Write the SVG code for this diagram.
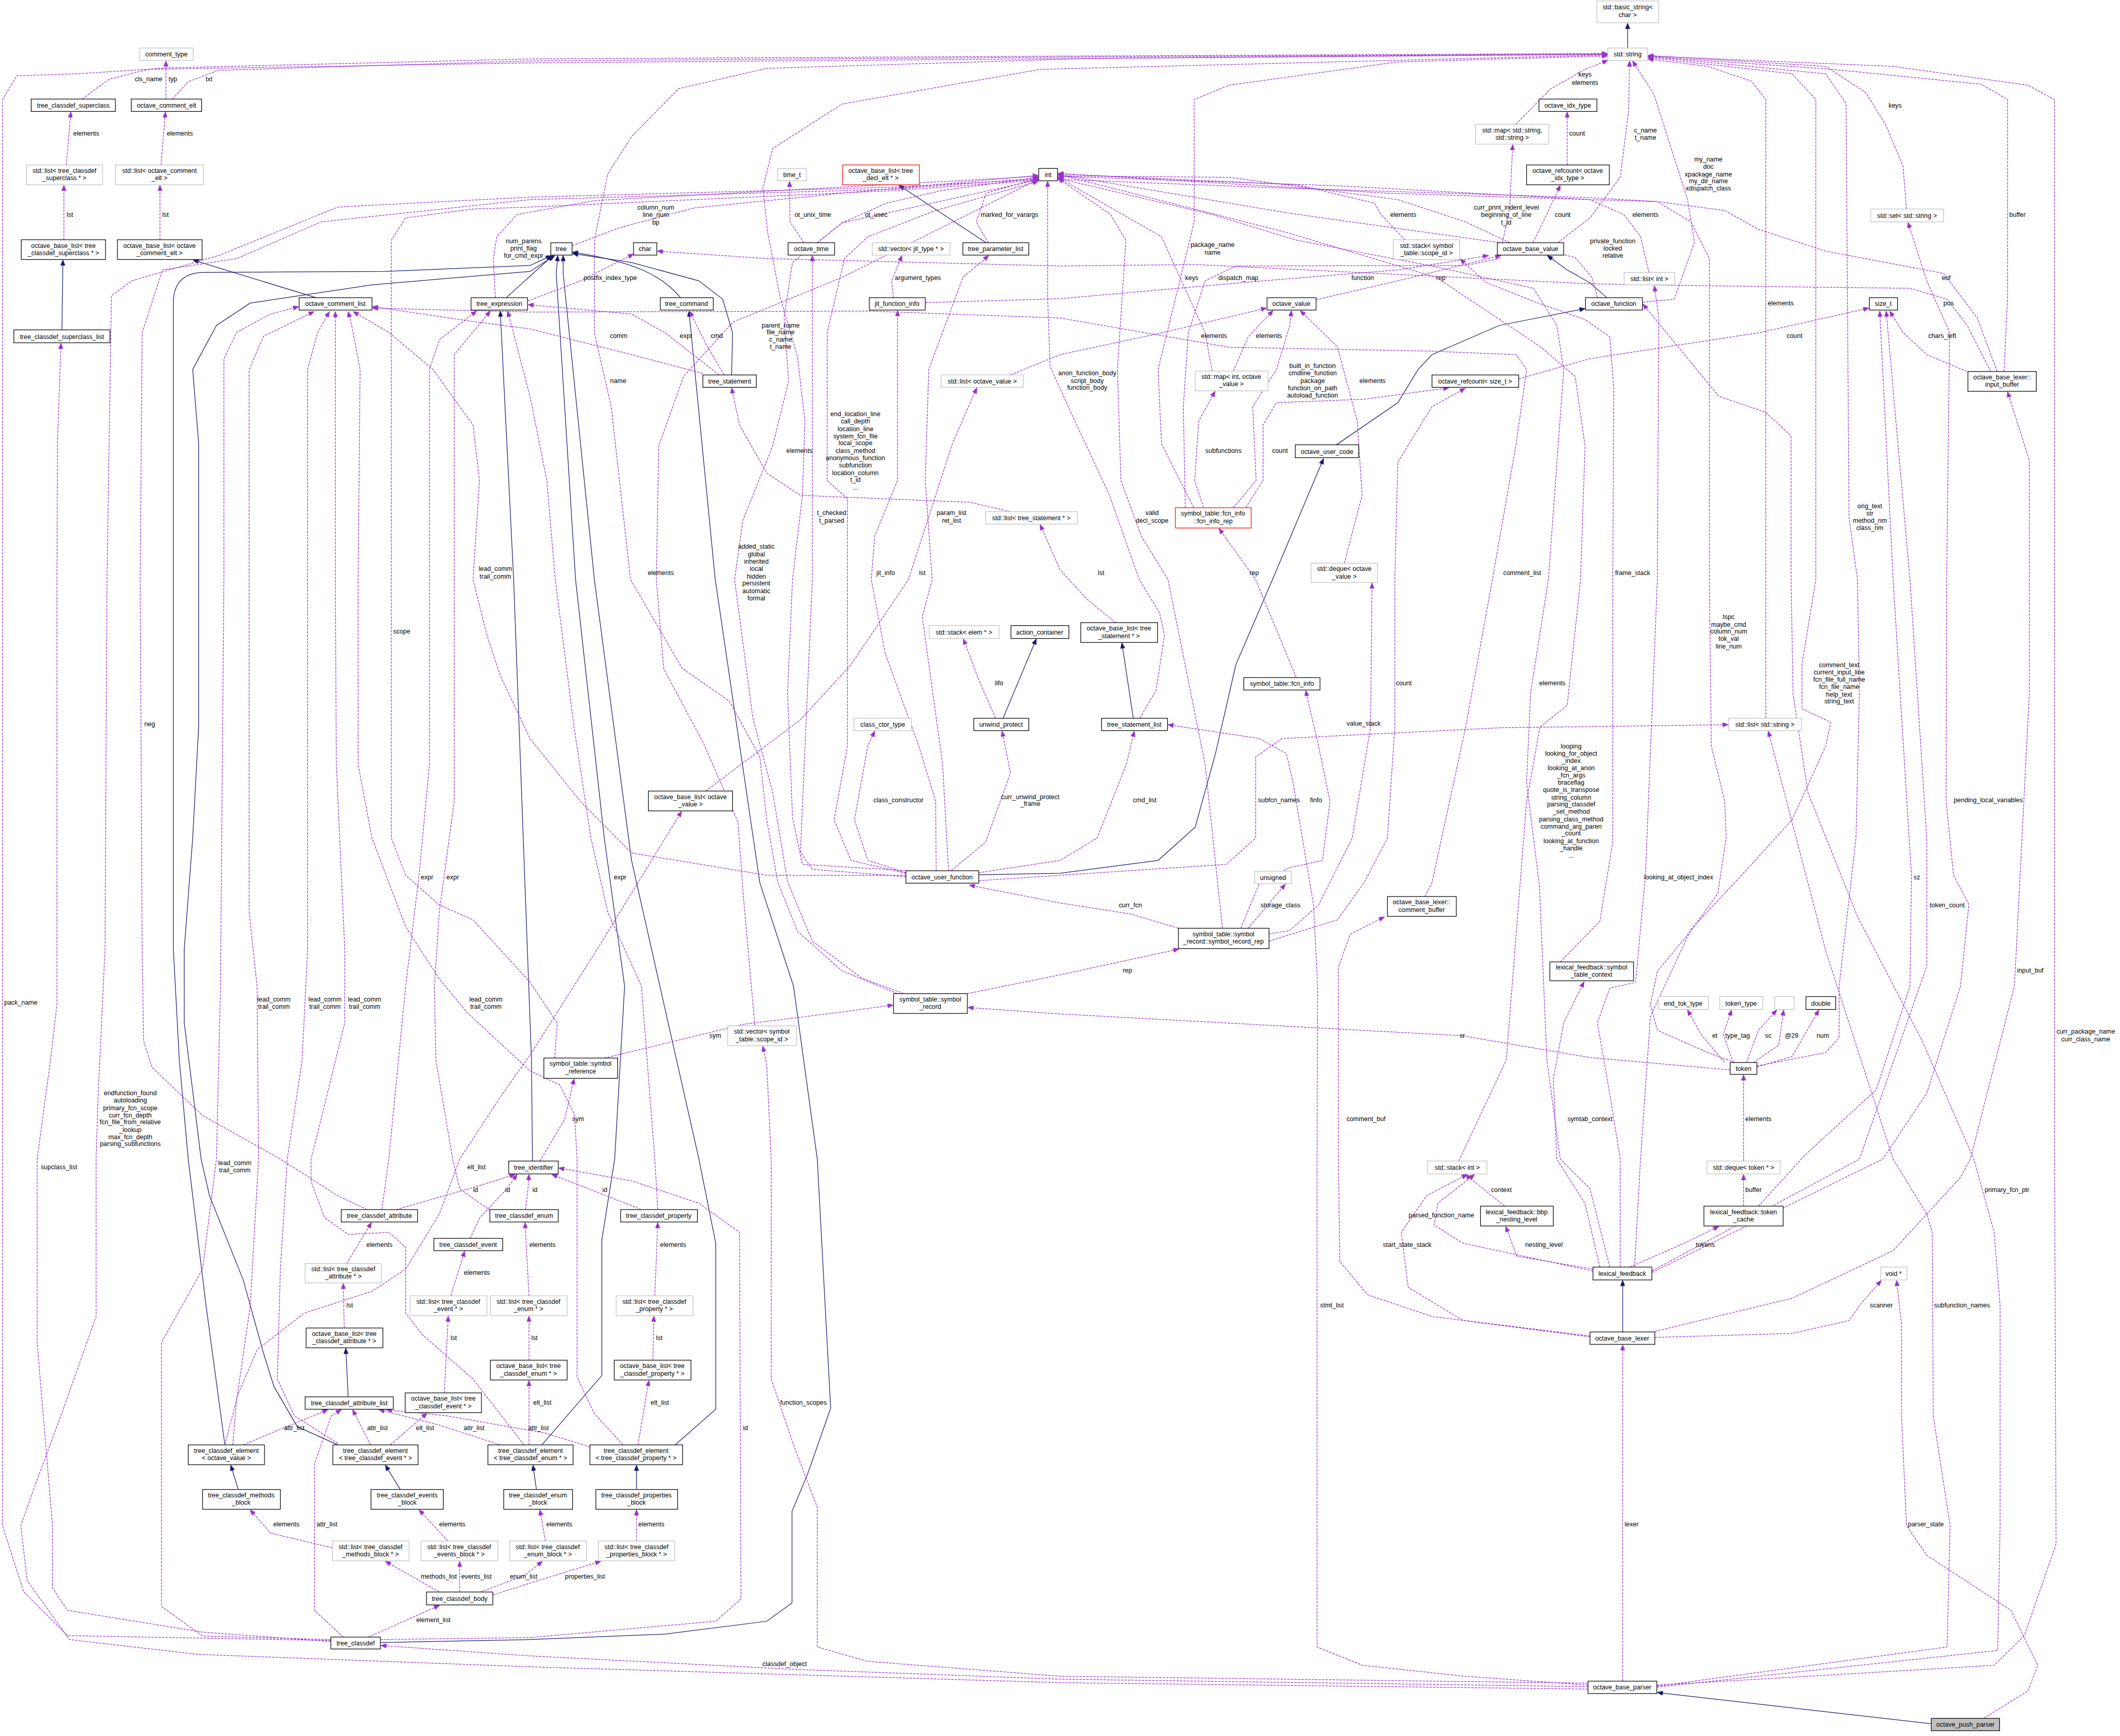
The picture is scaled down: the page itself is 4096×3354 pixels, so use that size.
<svg xmlns="http://www.w3.org/2000/svg" width="4096" height="3354" viewBox="0 0 4096 3354">
<defs>
<marker id="pa" viewBox="0 0 12 10" refX="12" refY="5" markerWidth="12" markerHeight="9" markerUnits="userSpaceOnUse" orient="auto"><path d="M0,0 L12,5 L0,10 z" fill="#9a32cd" stroke="#9a32cd"/></marker>
<marker id="na" viewBox="0 0 12 10" refX="12" refY="5" markerWidth="12" markerHeight="9" markerUnits="userSpaceOnUse" orient="auto"><path d="M0,0 L12,5 L0,10 z" fill="#191970" stroke="#191970"/></marker>
<style>
text{font-family:"Liberation Sans",Arial,Helvetica,sans-serif;font-size:13px;fill:#000;text-anchor:middle}
rect.b{fill:#fff;stroke:#000;stroke-width:1.3}
rect.g{fill:#fff;stroke:#bfbfbf;stroke-width:1.3}
rect.r{fill:#fff;stroke:#ff0000;stroke-width:1.3}
rect.s{fill:#bfbfbf;stroke:#000;stroke-width:1.3}
path.u{fill:none;stroke:#9a32cd;stroke-width:1.3;stroke-dasharray:5,2;marker-end:url(#pa)}
path.h{fill:none;stroke:#191970;stroke-width:1.3;marker-end:url(#na)}
</style>
</defs>
<rect x="0" y="0" width="4096" height="3354" fill="#fff"/>
<g transform="scale(0.957)">
<g id="connectors">
<path class="h" d="M3286,97 L3286,47"/>
<path class="h" d="M125,666 L127,525"/>
<path class="h" d="M638,601 L390,525"/>
<path class="h" d="M1022,601 L1116,516"/>
<path class="h" d="M1374,601 C1340,560 1290,530 1156,509"/>
<path class="h" d="M1477,757 L1479,672 L1459,604 L1411,567 L1275,530 L1156,512"/>
<path class="h" d="M454,2917 L416,2636 L380,2340 L362,2140 L350,1916 L350,612 Q350,552 409,550 L778,548 L1070,536 L1113,516"/>
<path class="h" d="M682,2917 L600,2880 L553,2799 L532,2732 L491,2584 L423,2414 L406,2340 L372,2065 L372,1916 L389,1692 L401,1468 L401,895 L389,746 L437,657 L505,612 L751,575 L1070,548 L1120,516"/>
<path class="h" d="M1094,2917 L1215,2777 L1215,2503 L1241,2340 L1261,1991 L1220,1692 L1162,1170 L1123,552 L1126,516"/>
<path class="h" d="M1363,2917 L1445,2845 L1445,2510 L1411,2340 L1275,1737 L1200,1170 L1137,552 L1137,516"/>
<path class="h" d="M768,3316 L1070,3310 L1343,3299 L1548,3273 L1599,3236 L1599,3051 L1630,2977 L1677,2843 L1650,2340 L1602,1991 L1534,1782 L1444,1170 L1391,628"/>
<path class="h" d="M1075,2344 L1073,2140 L1037,1170 L1010,628"/>
<path class="h" d="M703,2820 L698,2722"/>
<path class="h" d="M481,3007 L466,2958"/>
<path class="h" d="M808,3007 L778,2958"/>
<path class="h" d="M1083,3007 L1076,2958"/>
<path class="h" d="M1285,3007 L1285,2958"/>
<path class="h" d="M2288,1450 L2265,1298"/>
<path class="h" d="M2025,1450 L2092,1290"/>
<path class="h" d="M1976,1766 L2140,1763 L2338,1737 L2413,1670 L2454,1521 L2495,1342 L2569,1170 L2672,926"/>
<path class="h" d="M2698,898 L2822,813 L2863,746 L2891,716 L3027,657 L3200,623"/>
<path class="h" d="M3244,601 L3210,571 L3164,545 L3124,516"/>
<path class="h" d="M1991,490 L1815,374"/>
<path class="h" d="M3276,2689 L3276,2585"/>
<path class="h" d="M3899,3480 L3346,3417"/>

<path class="u" d="M166,200 L220,160 L300,140 L1070,127 L2200,118 L3245,110"/>
<path class="u" d="M335,200 L335,123"/>
<path class="u" d="M348,200 L380,165 L440,142 L1070,123 L2200,115 L3245,109"/>
<path class="u" d="M134,333 L143,226"/>
<path class="u" d="M325,333 L334,226"/>
<path class="u" d="M129,484 L129,374"/>
<path class="u" d="M323,484 L323,374"/>
<path class="u" d="M668,3312 L136,3302 L48,3214 L5,3080 L5,201 L34,153 L157,149 L341,137 L1070,119 L2200,113 L3245,108"/>
<path class="u" d="M668,3314 L409,3295 L136,3251 L106,3206 L106,3080 L75,2710 L75,2340 L102,2140 L115,2028 L115,1170 L116,895 L123,693"/>
<path class="u" d="M3206,3405 L2140,3390 L1600,3370 L1070,3343 L769,3322"/>
<path class="u" d="M3206,3410 L2140,3397 L1070,3365 L400,3340 L140,3310 L55,3191 L42,3080 L68,3006 L123,2858 L194,2658 L194,2340 L198,2215 L212,1916 L216,1170 L225,597 L266,567 L444,515 L682,418 L1070,398 L1800,378 L2096,362"/>
<path class="u" d="M668,3310 L409,3303 L326,3243 L326,2710 L409,2562 L437,2340 L445,2000 L452,1170 L452,724 L478,671 L546,634 L603,619"/>
<path class="u" d="M454,2917 L478,2825 L505,2638 L522,2340 L519,1991 L503,1841 L503,1170 L503,746 L532,679 L634,629"/>
<path class="u" d="M682,2914 L594,2858 L560,2784 L566,2562 L580,2340 L610,2140 L621,1916 L621,1170 L621,746 L641,672 L665,629"/>
<path class="u" d="M1058,2917 L955,2784 L853,2695 L819,2651 L819,2518 L785,2488 L703,2492 L655,2458 L628,2385 L628,2340 L641,2289 L696,2065 L696,1916 L679,1543 L677,1170 L677,629"/>
<path class="u" d="M1258,2917 L1200,2854 L1165,2780 L1165,2340 L1160,2250 L1130,2190 L1070,2162 L942,2043 L887,1976 L819,1871 L751,1692 L723,1543 L723,1170 L727,746 L710,657 L703,629"/>
<path class="u" d="M1829,1767 L1548,1767 L1275,1722 L1172,1618 L1070,1491 L1010,1364 L983,1282 L955,1170 L968,970 L955,858 L874,746 L785,671 L713,629"/>
<path class="u" d="M1419,754 L1275,716 L1070,664 L955,649 L752,619"/>
<path class="u" d="M1452,757 L1343,672 L1275,634 L1066,615"/>
<path class="u" d="M1462,757 L1425,694 L1392,628"/>
<path class="u" d="M1065,608 L1172,567 L1279,513"/>
<path class="u" d="M1000,601 L996,522 L1003,478 L1044,433 L1200,405 L2096,356"/>
<path class="u" d="M771,2442 L785,2340 L819,1991 L846,1767 L867,1543 L867,1170 L867,746 L887,686 L962,628"/>
<path class="u" d="M990,2444 L928,2400 L914,2340 L880,2140 L877,1991 L887,1841 L917,1618 L917,1170 L917,716 L990,628"/>
<path class="u" d="M1328,2442 L1322,2340 L1295,1991 L1227,1841 L1193,1692 L1159,1468 L1121,1170 L1104,970 L1070,800 L1025,628"/>
<path class="u" d="M741,2442 L682,2414 L566,2340 L409,2252 L307,2155 L290,2102 L287,1916 L283,1170 L287,672 L328,545 L478,522 L648,448 L1070,403 L1800,382 L2096,360"/>
<path class="u" d="M1623,490 L1595,448 L1594,366"/>
<path class="u" d="M1650,490 L1700,450 L1790,410 L1900,385 L2096,358"/>
<path class="u" d="M1995,490 L1971,448 L1991,390 L2096,360"/>
<path class="u" d="M1155,496 L1250,460 L1400,420 L1700,390 L2096,354"/>
<path class="u" d="M2447,749 L2433,672 L2345,478 L2136,358"/>
<path class="u" d="M2490,749 L2520,680 L2570,627"/>
<path class="u" d="M2040,757 L2140,716 L2345,672 L2557,622"/>
<path class="u" d="M2714,1137 L2750,1000 L2740,850 L2700,700 L2625,627"/>
<path class="u" d="M2490,1025 L2536,970 L2529,821 L2577,746 L2604,657 L2607,627"/>
<path class="u" d="M2562,1885 L2603,1879 L2662,1827 L2730,1692 L2767,1468 L2770,1177"/>
<path class="u" d="M2562,1900 L2700,1857 L2754,1782 L2801,1692 L2816,1468 L2816,1170 L2822,933 L2891,821 L2958,784"/>
<path class="u" d="M2515,1025 L2550,970 L2550,858 L2577,813 L2754,806 L2925,783"/>
<path class="u" d="M2430,1025 L2412,970 L2420,850 L2453,790"/>
<path class="u" d="M2393,1025 L2389,821 L2399,672 L2433,567 L2495,537 L2959,536 L3027,522 L3048,418 L3054,292"/>
<path class="u" d="M2410,1025 L2345,896 L2338,746 L2411,448 L2411,201 L2481,172 L2822,125 L3245,113"/>
<path class="u" d="M2468,1874 L2433,1543 L2358,1170 L2304,1082 L2263,970 L2256,746 L2273,485 L2242,433 L2136,360"/>
<path class="u" d="M2301,1450 L2334,1394 L2351,1282 L2341,1237 L2300,1170 L2240,1000 L2170,850 L2120,740 L2115,600 L2115,366"/>
<path class="u" d="M2617,1368 L2535,1170 L2461,1067"/>
<path class="u" d="M2505,1874 L2543,1782 L2603,1752 L2670,1737 L2685,1618 L2662,1506 L2636,1394"/>
<path class="u" d="M2520,1874 L2595,1785"/>
<path class="u" d="M1976,1778 L2140,1767 L2476,1745 L2535,1692 L2535,1528 L2588,1491 L3035,1469 L3210,1467 L3489,1463"/>
<path class="u" d="M1976,1762 L2140,1737 L2215,1692 L2274,1543 L2290,1476"/>
<path class="u" d="M1920,1758 L1990,1700 L2040,1560 L2023,1476"/>
<path class="u" d="M1829,1762 L1752,1737 L1725,1655 L1752,1506 L1766,1476"/>
<path class="u" d="M2379,1874 L2282,1845 L2140,1823 L1957,1787"/>
<path class="u" d="M1953,2006 L2140,1968 L2380,1916"/>
<path class="u" d="M3493,2160 L3210,2135 L2952,2091 L2140,2047 L1954,2034"/>
<path class="u" d="M1220,2136 L1300,2117 L1500,2068 L1700,2043 L1803,2029"/>
<path class="u" d="M1090,2344 L1140,2260 L1159,2178"/>
<path class="u" d="M1120,2136 L1125,2065 L1070,1983 L955,1857 L887,1827 L819,1767 L790,1692 L790,1170 L790,485 L819,440 L955,422 L1070,418 L1800,385 L2096,364"/>
<path class="u" d="M470,2917 L478,2821 L519,2725 L614,2651 L751,2607 L819,2562 L887,2451 L928,2340 L1010,2215 L1070,2130 L1206,1916 L1376,1638"/>
<path class="u" d="M1425,1597 L1616,1453 L1718,1342 L1834,1170 L1923,895 L1972,783"/>
<path class="u" d="M800,2442 L960,2396 L1040,2371"/>
<path class="u" d="M949,2500 L969,2458 L1024,2399 L1044,2371"/>
<path class="u" d="M1061,2442 L1066,2400 L1068,2371"/>
<path class="u" d="M1295,2442 L1206,2407 L1114,2371"/>
<path class="u" d="M768,3310 L1070,3306 L1445,3273 L1496,3228 L1493,2488 L1411,2429 L1275,2384 L1128,2358"/>
<path class="u" d="M700,2551 L750,2468"/>
<path class="u" d="M695,2681 L693,2591"/>
<path class="u" d="M910,2616 L938,2526"/>
<path class="u" d="M897,2812 L905,2657"/>
<path class="u" d="M1068,2616 L1060,2468"/>
<path class="u" d="M1068,2746 L1068,2657"/>
<path class="u" d="M1322,2616 L1328,2468"/>
<path class="u" d="M1318,2746 L1320,2657"/>
<path class="u" d="M491,2917 L560,2888 L662,2846"/>
<path class="u" d="M748,2917 L712,2846"/>
<path class="u" d="M788,2917 L862,2853"/>
<path class="u" d="M1010,2917 L887,2877 L765,2846"/>
<path class="u" d="M1068,2917 L1068,2787"/>
<path class="u" d="M1191,2921 L1100,2893 L900,2858 L780,2846"/>
<path class="u" d="M1288,2917 L1310,2787"/>
<path class="u" d="M693,3305 L635,3251 L635,2955 L669,2858 L689,2846"/>
<path class="u" d="M671,3125 L546,3095 L505,3048"/>
<path class="u" d="M904,3111 L846,3048"/>
<path class="u" d="M1101,3111 L1090,3048"/>
<path class="u" d="M1285,3111 L1285,3048"/>
<path class="u" d="M887,3214 L778,3152"/>
<path class="u" d="M928,3214 L928,3152"/>
<path class="u" d="M970,3214 L1060,3180 L1095,3152"/>
<path class="u" d="M995,3220 L1070,3196 L1213,3152"/>
<path class="u" d="M744,3305 L887,3241"/>
<path class="u" d="M3276,3394 L3276,2715"/>
<path class="u" d="M3206,3402 L2956,3384 L2751,3362 L2659,3325 L2659,2340 L2660,1991 L2652,1828 L2611,1582 L2597,1521 L2542,1491 L2358,1463"/>
<path class="u" d="M3206,3398 L2140,3384 L1752,3354 L1650,3325 L1650,3043 L1602,2917 L1557,2784 L1557,2340 L1548,2150 L1540,2112"/>
<path class="u" d="M3345,3404 L3931,3325 L3937,3080 L3903,2858 L3901,2488 L3890,2451 L3822,2340 L3686,1920 L3570,1476"/>
<path class="u" d="M3345,3406 L4033,3332 L4038,3080 L4038,2636 L4026,2488 L3985,2340 L3880,2100 L3750,1850 L3650,1600 L3620,1400 L3616,1170 L3616,880 L3564,832 L3470,800 L3317,614"/>
<path class="u" d="M3345,3402 L4026,3362 L4087,3302 L4151,3117 L4148,2340 L4148,201 L4094,172 L3822,134 L3327,113"/>
<path class="u" d="M4046,750 L4053,600 L4053,201 L4000,170 L3700,140 L3327,114"/>
<path class="u" d="M3341,2688 L3618,2621 L3822,2525 L3958,2377 L3978,2340 L4067,1990 L4097,1400 L4097,929 L4053,791"/>
<path class="u" d="M3849,422 L3842,336 L3808,254 L3767,187 L3686,134 L3327,112"/>
<path class="u" d="M3335,2569 L3801,2340 L3890,2207 L3958,1991 L3975,1826 L3944,1767 L3929,1617 L3930,1170 L3936,671 L3890,567 L3852,449"/>
<path class="u" d="M3550,2435 L3645,2331 L3788,2200 L3856,1991 L3859,1767 L3822,1170 L3795,628"/>
<path class="u" d="M3335,2566 L3754,2340 L3890,1950 L3890,1692 L3856,1170 L3808,628"/>
<path class="u" d="M3971,750 L3890,716 L3842,671 L3815,628"/>
<path class="u" d="M4019,750 L3971,656 L3931,604 L3856,582 L3686,580 L3380,576 L3210,573 L2413,534 L2140,537 L1548,522 L1327,507"/>
<path class="u" d="M4032,750 L3992,642 L3924,552 L3686,507 L3550,463 L3482,425 L3346,407 L3210,399 L2600,380 L2136,362"/>
<path class="u" d="M3066,765 L3210,724 L3550,672 L3773,622"/>
<path class="u" d="M3565,1450 L3565,201 L3536,164 L3448,134 L3327,119"/>
<path class="u" d="M3300,2558 L3312,2340 L3332,2052 L3414,1876 L3516,1767 L3618,1655 L3686,1506 L3696,1458 L3638,1431 L3638,1341 L3666,1170 L3666,201 L3618,149 L3327,116"/>
<path class="u" d="M3547,2152 L3686,2125 L3713,2095 L3713,1991 L3747,1692 L3754,1394 L3750,1170 L3733,1044 L3727,209 L3686,149 L3327,114"/>
<path class="u" d="M3271,2558 L3271,2340 L3251,2215 L3225,2065 L3250,1995 L3302,1983 L3322,1767 L3346,1170 L3349,642 L3340,577"/>
<path class="u" d="M3230,2558 L3200,2430 L3143,2340 L3136,2177 L3157,2065 L3198,1982"/>
<path class="u" d="M3250,2558 L3210,2400 L3150,2340 L3123,2140 L3108,1789 L3082,1580 L3090,1400 L3126,1170 L3157,746 L3143,657 L3096,582 L2891,537 L2618,485 L2447,433 L2136,360"/>
<path class="u" d="M2945,2344 L3041,2140 L3082,1618 L3109,1468 L3164,1424 L3191,1170 L3200,900 L3180,760 L3110,700 L2900,560 L2600,470 L2136,352"/>
<path class="u" d="M2836,484 L2788,433 L2775,410 L2618,373 L2136,351"/>
<path class="u" d="M3329,550 L3312,477 L3278,433 L3210,403 L2800,390 L2136,350"/>
<path class="u" d="M3048,490 L2959,448 L2822,403 L2481,358 L2136,355"/>
<path class="u" d="M3225,601 L3214,560 L3180,520 L3100,500 L2600,430 L2136,352"/>
<path class="u" d="M3164,333 L3164,226"/>
<path class="u" d="M3095,490 L3123,432 L3150,374"/>
<path class="u" d="M3060,251 L3130,180 L3200,140 L3246,122"/>
<path class="u" d="M3145,490 L3210,440 L3271,358 L3288,224 L3290,123"/>
<path class="u" d="M3316,610 L3380,604 L3421,489 L3407,403 L3339,190 L3296,123"/>
<path class="u" d="M3502,2145 L3448,2125 L3346,2080 L3332,2028 L3346,1961 L3414,1879 L3468,1804 L3485,1692 L3482,1618 L3455,1506 L3451,1170 L3451,522 L3414,448 L3346,407 L3210,403 L2700,375 L2136,356"/>
<path class="u" d="M3482,2145 L3434,2088 L3407,2039"/>
<path class="u" d="M3499,2145 L3479,2088 L3496,2039"/>
<path class="u" d="M3526,2145 L3550,2080 L3587,2039"/>
<path class="u" d="M3540,2145 L3591,2110 L3601,2039"/>
<path class="u" d="M3547,2154 L3618,2133 L3672,2039"/>
<path class="u" d="M3520,2344 L3520,2170"/>
<path class="u" d="M3520,2435 L3520,2371"/>
<path class="u" d="M3290,2558 L3400,2510 L3470,2476"/>
<path class="u" d="M3216,2562 L3062,2536 L3040,2476"/>
<path class="u" d="M3216,2566 L2954,2510 L2895,2473 L2903,2429 L2977,2371"/>
<path class="u" d="M3210,2699 L2954,2666 L2843,2599 L2829,2488 L2880,2414 L2962,2371"/>
<path class="u" d="M3210,2697 L2892,2658 L2761,2614 L2705,2547 L2702,2340 L2702,1953 L2726,1886 L2795,1851"/>
<path class="u" d="M3038,2435 L2958,2371"/>
<path class="u" d="M3341,2700 L3618,2692 L3733,2666 L3754,2636 L3798,2585"/>
<path class="u" d="M4005,3469 L4094,3414 L4114,3362 L4060,3251 L3890,3140 L3849,3080 L3839,2858 L3839,2673 L3829,2585"/>
<path class="u" d="M3150,1942 L3230,1860 L3256,1700 L3256,1170 L3258,784 L3250,680 L3200,645 L3100,610 L3000,570 L2948,523"/>
<path class="u" d="M2010,1450 L1975,1370 L1945,1290"/>
<path class="u" d="M1804,601 L1800,567 L1821,516"/>
<path class="u" d="M1890,1758 L1889,1618 L1855,1506 L1787,1319 L1759,1170 L1766,1082 L1812,970 L1812,627"/>
<path class="u" d="M1915,1758 L1903,1543 L1862,1245 L1882,1170 L1868,970 L1875,746 L1944,560 L1996,516"/>
<path class="u" d="M1829,1770 L1640,1755 L1616,1720 L1640,1170 L1640,516"/>
<path class="u" d="M1829,1763 L1718,1737 L1684,1655 L1711,1506 L1711,1007 L1670,970 L1670,672 L1705,522 L1752,478 L1889,425 L2096,366"/>
<path class="u" d="M2040,1033 L1958,1014 L1616,1000 L1548,955 L1493,858 L1477,783"/>
<path class="u" d="M2252,1257 L2195,1210 L2140,1150 L2100,1059"/>
<path class="u" d="M1868,611 L2140,603 L2549,567 L2822,545 L3005,516"/>
<path class="u" d="M2657,605 L2822,567 L3030,516"/>
<path class="u" d="M2877,1810 L2891,1782 L2959,1468 L3013,1170 L3061,896 L3082,746 L3061,716 L2891,709 L2481,701 L2140,642 L1752,628 L1070,630 L752,622"/>
<path class="u" d="M1835,1758 L1620,1745 L1600,1650 L1590,1400 L1600,1170 L1620,1000 L1625,850 L1610,720 L1575,600 L1550,470 L1540,380 L1560,300 L1700,210 L2100,140 L3245,111"/>
<path class="u" d="M1825,2006 L1740,1975 L1640,1900 L1590,1780 L1560,1600 L1520,1450 L1483,1170 L1500,1050 L1560,900 L1592,770 L1583,640 L1600,530 L1700,450 L2096,363"/>
<path class="u" d="M1812,2006 L1700,1960 L1610,1880 L1570,1780 L1548,1655 L1534,1528 L1473,1416 L1377,1349 L1273,1170 L1234,821 L1200,672 L1200,485 L1227,351 L1275,276 L1370,179 L1548,138 L2200,118 L3245,109"/>
<path class="u" d="M1524,2071 L1500,1800 L1490,1660 L1420,1500 L1340,1350 L1325,1170 L1330,900 L1380,760 L1480,650 L1700,560 L2096,362"/>
</g>

<g id="edge-labels">
<text x="300" y="164">cls_name</text>
<text x="349" y="164">typ</text>
<text x="422" y="164">txt</text>
<text x="174" y="274">elements</text>
<text x="363" y="274">elements</text>
<text x="141" y="438">lst</text>
<text x="334" y="438">lst</text>
<text><tspan x="1057" y="491">num_parens</tspan><tspan x="1057" y="506">print_flag</tspan><tspan x="1057" y="520">for_cmd_expr</tspan></text>
<text><tspan x="1000" y="1153">lead_comm</tspan><tspan x="1000" y="1168">trail_comm</tspan></text>
<text><tspan x="1324" y="423">column_num</tspan><tspan x="1324" y="438">line_num</tspan><tspan x="1324" y="453">bp</tspan></text>
<text x="1641" y="438">ot_unix_time</text>
<text x="1769" y="438">ot_usec</text>
<text x="2038" y="438">marked_for_varargs</text>
<text x="1232" y="565">postfix_index_type</text>
<text x="1853" y="565">argument_types</text>
<text x="1249" y="682">comm</text>
<text x="1385" y="682">expr</text>
<text x="1447" y="682">cmd</text>
<text><tspan x="1576" y="661">parent_name</tspan><tspan x="1576" y="675">file_name</tspan><tspan x="1576" y="690">c_name</tspan><tspan x="1576" y="704">t_name</tspan></text>
<text x="1248" y="773">name</text>
<text><tspan x="1727" y="840">end_location_line</tspan><tspan x="1727" y="855">call_depth</tspan><tspan x="1727" y="870">location_line</tspan><tspan x="1727" y="885">system_fcn_file</tspan><tspan x="1727" y="899">local_scope</tspan><tspan x="1727" y="914">class_method</tspan><tspan x="1727" y="929">anonymous_function</tspan><tspan x="1727" y="944">subfunction</tspan><tspan x="1727" y="959">location_column</tspan><tspan x="1727" y="973">t_id</tspan><tspan x="1727" y="988">...</tspan></text>
<text x="1614" y="914">elements</text>
<text><tspan x="1679" y="1040">t_checked</tspan><tspan x="1679" y="1055">t_parsed</tspan></text>
<text><tspan x="1921" y="1040">param_list</tspan><tspan x="1921" y="1055">ret_list</tspan></text>
<text x="1334" y="1161">elements</text>
<text x="1788" y="1161">jit_info</text>
<text x="1862" y="1161">lst</text>
<text><tspan x="1527" y="1108">added_static</tspan><tspan x="1527" y="1123">global</tspan><tspan x="1527" y="1138">inherited</tspan><tspan x="1527" y="1153">local</tspan><tspan x="1527" y="1168">hidden</tspan><tspan x="1527" y="1182">persistent</tspan><tspan x="1527" y="1197">automatic</tspan><tspan x="1527" y="1212">formal</tspan></text>
<text><tspan x="3200" y="155">keys</tspan><tspan x="3200" y="171">elements</tspan></text>
<text x="3184" y="274">count</text>
<text><tspan x="3041" y="423">curr_print_indent_level</tspan><tspan x="3041" y="438">beginning_of_line</tspan><tspan x="3041" y="453">t_id</tspan></text>
<text x="3155" y="438">count</text>
<text x="2833" y="438">elements</text>
<text><tspan x="2448" y="498">package_name</tspan><tspan x="2448" y="514">name</tspan></text>
<text x="2406" y="565">keys</text>
<text x="2500" y="565">dispatch_map</text>
<text x="2751" y="565">function</text>
<text x="2909" y="565">rep</text>
<text x="2451" y="682">elements</text>
<text x="2562" y="682">elements</text>
<text x="2771" y="773">elements</text>
<text><tspan x="2195" y="758">anon_function_body</tspan><tspan x="2195" y="773">script_body</tspan><tspan x="2195" y="787">function_body</tspan></text>
<text><tspan x="2650" y="743">built_in_function</tspan><tspan x="2650" y="758">cmdline_function</tspan><tspan x="2650" y="773">package</tspan><tspan x="2650" y="788">function_on_path</tspan><tspan x="2650" y="802">autoload_function</tspan></text>
<text x="2470" y="914">subfunctions</text>
<text x="2584" y="914">count</text>
<text><tspan x="2326" y="1040">valid</tspan><tspan x="2326" y="1055">decl_scope</tspan></text>
<text x="2223" y="1161">lst</text>
<text x="2532" y="1161">rep</text>
<text x="3073" y="1161">comment_list</text>
<text><tspan x="3322" y="267">c_name</tspan><tspan x="3322" y="282">t_name</tspan></text>
<text><tspan x="3449" y="326">my_name</tspan><tspan x="3449" y="341">doc</tspan><tspan x="3449" y="356">xpackage_name</tspan><tspan x="3449" y="370">my_dir_name</tspan><tspan x="3449" y="385">xdispatch_class</tspan></text>
<text x="3826" y="217">keys</text>
<text x="4073" y="438">buffer</text>
<text x="3322" y="438">elements</text>
<text><tspan x="3256" y="491">private_function</tspan><tspan x="3256" y="506">locked</tspan><tspan x="3256" y="520">relative</tspan></text>
<text x="3929" y="565">eof</text>
<text x="3595" y="617">elements</text>
<text x="3934" y="617">pos</text>
<text x="3623" y="682">count</text>
<text x="3921" y="682">chars_left</text>
<text><tspan x="3775" y="1026">orig_text</tspan><tspan x="3775" y="1041">str</tspan><tspan x="3775" y="1055">method_nm</tspan><tspan x="3775" y="1070">class_nm</tspan></text>
<text x="3296" y="1161">frame_stack</text>
<text x="811" y="1279">scope</text>
<text x="302" y="1466">neg</text>
<text x="862" y="1775">expr</text>
<text x="914" y="1775">expr</text>
<text x="42" y="2028">pack_name</text>
<text><tspan x="553" y="2022">lead_comm</tspan><tspan x="553" y="2037">trail_comm</tspan></text>
<text><tspan x="656" y="2022">lead_comm</tspan><tspan x="656" y="2037">trail_comm</tspan></text>
<text><tspan x="736" y="2022">lead_comm</tspan><tspan x="736" y="2037">trail_comm</tspan></text>
<text><tspan x="981" y="2022">lead_comm</tspan><tspan x="981" y="2037">trail_comm</tspan></text>
<text><tspan x="263" y="2211">endfunction_found</tspan><tspan x="263" y="2226">autoloading</tspan><tspan x="263" y="2241">primary_fcn_scope</tspan><tspan x="263" y="2256">curr_fcn_depth</tspan><tspan x="263" y="2270">fcn_file_from_relative</tspan><tspan x="263" y="2285">_lookup</tspan><tspan x="263" y="2300">max_fcn_depth</tspan><tspan x="263" y="2314">parsing_subfunctions</tspan></text>
<text x="2017" y="1384">lifo</text>
<text x="1814" y="1620">class_constructor</text>
<text><tspan x="2080" y="1613">curr_unwind_protect</tspan><tspan x="2080" y="1627">_frame</tspan></text>
<text x="1252" y="1775">expr</text>
<text x="1444" y="2095">sym</text>
<text x="1167" y="2263">sym</text>
<text x="2834" y="1384">count</text>
<text x="3134" y="1384">elements</text>
<text x="2753" y="1465">value_stack</text>
<text x="2311" y="1620">cmd_list</text>
<text x="2582" y="1620">subfcn_names</text>
<text x="2657" y="1620">finfo</text>
<text><tspan x="3172" y="1511">looping</tspan><tspan x="3172" y="1526">looking_for_object</tspan><tspan x="3172" y="1540">_index</tspan><tspan x="3172" y="1555">looking_at_anon</tspan><tspan x="3172" y="1570">_fcn_args</tspan><tspan x="3172" y="1584">braceflag</tspan><tspan x="3172" y="1599">quote_is_transpose</tspan><tspan x="3172" y="1614">string_column</tspan><tspan x="3172" y="1628">parsing_classdef</tspan><tspan x="3172" y="1643">_set_method</tspan><tspan x="3172" y="1658">parsing_class_method</tspan><tspan x="3172" y="1673">command_arg_paren</tspan><tspan x="3172" y="1687">_count</tspan><tspan x="3172" y="1702">looking_at_function</tspan><tspan x="3172" y="1717">_handle</tspan><tspan x="3172" y="1731">...</tspan></text>
<text x="2282" y="1832">curr_fcn</text>
<text x="2585" y="1832">storage_class</text>
<text x="2276" y="1963">rep</text>
<text x="2952" y="2095">sr</text>
<text x="2758" y="2263">comment_buf</text>
<text x="3210" y="2263">symtab_context</text>
<text><tspan x="3490" y="1250">tspc</tspan><tspan x="3490" y="1265">maybe_cmd</tspan><tspan x="3490" y="1279">column_num</tspan><tspan x="3490" y="1294">tok_val</tspan><tspan x="3490" y="1309">line_num</tspan></text>
<text><tspan x="3713" y="1347">comment_text</tspan><tspan x="3713" y="1362">current_input_line</tspan><tspan x="3713" y="1376">fcn_file_full_name</tspan><tspan x="3713" y="1391">fcn_file_name</tspan><tspan x="3713" y="1406">help_text</tspan><tspan x="3713" y="1420">string_text</tspan></text>
<text x="4014" y="1620">pending_local_variables</text>
<text x="3389" y="1775">looking_at_object_index</text>
<text x="3870" y="1775">sz</text>
<text x="3931" y="1832">token_count</text>
<text x="4099" y="1963">input_buf</text>
<text x="3462" y="2095">et</text>
<text x="3508" y="2095">type_tag</text>
<text x="3570" y="2095">sc</text>
<text x="3617" y="2095">@29</text>
<text x="3680" y="2095">num</text>
<text><tspan x="4211" y="2087">curr_package_name</tspan><tspan x="4211" y="2102">curr_class_name</tspan></text>
<text x="3550" y="2263">elements</text>
<text x="119" y="2360">supclass_list</text>
<text><tspan x="474" y="2352">lead_comm</tspan><tspan x="474" y="2367">trail_comm</tspan></text>
<text x="962" y="2360">elt_list</text>
<text x="960" y="2406">id</text>
<text x="1025" y="2406">id</text>
<text x="1080" y="2406">id</text>
<text x="1221" y="2406">id</text>
<text x="766" y="2517">elements</text>
<text x="963" y="2574">elements</text>
<text x="1095" y="2517">elements</text>
<text x="1359" y="2517">elements</text>
<text x="706" y="2639">lst</text>
<text x="916" y="2705">lst</text>
<text x="1079" y="2705">lst</text>
<text x="1331" y="2705">lst</text>
<text x="1095" y="2836">elt_list</text>
<text x="1332" y="2836">elt_list</text>
<text x="1622" y="2836">function_scopes</text>
<text x="594" y="2887">attr_list</text>
<text x="762" y="2887">attr_list</text>
<text x="858" y="2887">elt_list</text>
<text x="957" y="2887">attr_list</text>
<text x="1087" y="2887">attr_list</text>
<text x="1505" y="2887">id</text>
<text x="578" y="3082">elements</text>
<text x="660" y="3082">attr_list</text>
<text x="913" y="3082">elements</text>
<text x="1129" y="3082">elements</text>
<text x="1315" y="3082">elements</text>
<text x="886" y="3187">methods_list</text>
<text x="962" y="3187">events_list</text>
<text x="1057" y="3187">enum_list</text>
<text x="1181" y="3187">properties_list</text>
<text x="875" y="3275">element_list</text>
<text x="1584" y="3364">classdef_object</text>
<text x="3031" y="2406">context</text>
<text x="2910" y="2458">parsed_function_name</text>
<text x="2841" y="2517">start_state_stack</text>
<text x="3117" y="2517">nesting_level</text>
<text x="2689" y="2639">stmt_list</text>
<text x="3540" y="2406">buffer</text>
<text x="4052" y="2406">primary_fcn_ptr</text>
<text x="3443" y="2517">tokens</text>
<text x="3798" y="2639">scanner</text>
<text x="3961" y="2639">subfunction_names</text>
<text x="3294" y="3082">lexer</text>
<text x="3888" y="3082">parser_state</text>
</g>

<g id="n1"><rect class="g" x="3224" y="2" width="125" height="44"/><text><tspan x="3286" y="19">std::basic_string&lt;</tspan><tspan x="3286" y="35">char &gt;</tspan></text></g>
<g id="n2"><rect class="g" x="3246" y="97" width="80" height="25"/><text x="3286" y="114">std::string</text></g>
<g id="n3"><rect class="g" x="282" y="97" width="108" height="25"/><text x="336" y="114">comment_type</text></g>
<g id="n4"><rect class="b" x="63" y="200" width="170" height="25"/><text x="148" y="217">tree_classdef_superclass</text></g>
<g id="n5"><rect class="b" x="265" y="200" width="142" height="25"/><text x="336" y="217">octave_comment_elt</text></g>
<g id="n6"><rect class="b" x="3107" y="200" width="117" height="25"/><text x="3165" y="217">octave_idx_type</text></g>
<g id="n7"><rect class="g" x="2979" y="251" width="148" height="40"/><text><tspan x="3053" y="267">std::map&lt; std::string,</tspan><tspan x="3053" y="282">std::string &gt;</tspan></text></g>
<g id="n8"><rect class="b" x="3082" y="333" width="167" height="40"/><text><tspan x="3165" y="349">octave_refcount&lt; octave</tspan><tspan x="3165" y="364">_idx_type &gt;</tspan></text></g>
<g id="n9"><rect class="g" x="1570" y="340" width="58" height="25"/><text x="1599" y="357">time_t</text></g>
<g id="n10"><rect class="r" x="1701" y="333" width="155" height="40"/><text><tspan x="1778" y="349">octave_base_list&lt; tree</tspan><tspan x="1778" y="364">_decl_elt * &gt;</tspan></text></g>
<g id="n11"><rect class="b" x="2097" y="340" width="38" height="25"/><text x="2116" y="357">int</text></g>
<g id="n12"><rect class="g" x="3777" y="422" width="147" height="26"/><text x="3850" y="440">std::set&lt; std::string &gt;</text></g>
<g id="n13"><rect class="g" x="53" y="333" width="154" height="40"/><text><tspan x="130" y="349">std::list&lt; tree_classdef</tspan><tspan x="130" y="364">_superclass * &gt;</tspan></text></g>
<g id="n14"><rect class="g" x="233" y="333" width="178" height="40"/><text><tspan x="322" y="349">std::list&lt; octave_comment</tspan><tspan x="322" y="364">_elt &gt;</tspan></text></g>
<g id="n15"><rect class="b" x="43" y="484" width="170" height="40"/><text><tspan x="128" y="500">octave_base_list&lt; tree</tspan><tspan x="128" y="515">_classdef_superclass * &gt;</tspan></text></g>
<g id="n16"><rect class="b" x="237" y="484" width="171" height="40"/><text><tspan x="322" y="500">octave_base_list&lt; octave</tspan><tspan x="322" y="515">_comment_elt &gt;</tspan></text></g>
<g id="n17"><rect class="b" x="1112" y="490" width="43" height="25"/><text x="1133" y="507">tree</text></g>
<g id="n18"><rect class="b" x="1279" y="490" width="47" height="25"/><text x="1302" y="507">char</text></g>
<g id="n19"><rect class="b" x="1591" y="490" width="94" height="25"/><text x="1638" y="507">octave_time</text></g>
<g id="n20"><rect class="g" x="1761" y="490" width="157" height="25"/><text x="1839" y="507">std::vector&lt; jit_type * &gt;</text></g>
<g id="n21"><rect class="b" x="1944" y="490" width="133" height="25"/><text x="2010" y="507">tree_parameter_list</text></g>
<g id="n22"><rect class="g" x="2813" y="484" width="134" height="40"/><text><tspan x="2880" y="500">std::stack&lt; symbol</tspan><tspan x="2880" y="515">_table::scope_id &gt;</tspan></text></g>
<g id="n23"><rect class="b" x="3023" y="490" width="134" height="25"/><text x="3090" y="507">octave_base_value</text></g>
<g id="n24"><rect class="g" x="3279" y="550" width="102" height="25"/><text x="3330" y="567">std::list&lt; int &gt;</text></g>
<g id="n25"><rect class="b" x="604" y="601" width="147" height="25"/><text x="677" y="618">octave_comment_list</text></g>
<g id="n26"><rect class="b" x="951" y="601" width="114" height="25"/><text x="1008" y="618">tree_expression</text></g>
<g id="n27"><rect class="b" x="1333" y="601" width="107" height="25"/><text x="1386" y="618">tree_command</text></g>
<g id="n28"><rect class="b" x="1755" y="601" width="113" height="25"/><text x="1811" y="618">jit_function_info</text></g>
<g id="n29"><rect class="b" x="2558" y="601" width="99" height="25"/><text x="2607" y="618">octave_value</text></g>
<g id="n30"><rect class="b" x="3201" y="601" width="115" height="25"/><text x="3258" y="618">octave_function</text></g>
<g id="n31"><rect class="b" x="3774" y="601" width="57" height="25"/><text x="3802" y="618">size_t</text></g>
<g id="n32"><rect class="b" x="28" y="666" width="194" height="26"/><text x="125" y="684">tree_classdef_superclass_list</text></g>
<g id="n33"><rect class="b" x="1419" y="757" width="108" height="25"/><text x="1473" y="774">tree_statement</text></g>
<g id="n34"><rect class="g" x="1900" y="757" width="166" height="25"/><text x="1983" y="774">std::list&lt; octave_value &gt;</text></g>
<g id="n35"><rect class="g" x="2413" y="749" width="147" height="40"/><text><tspan x="2486" y="765">std::map&lt; int, octave</tspan><tspan x="2486" y="780">_value &gt;</tspan></text></g>
<g id="n36"><rect class="b" x="2891" y="757" width="175" height="25"/><text x="2978" y="774">octave_refcount&lt; size_t &gt;</text></g>
<g id="n37"><rect class="b" x="3973" y="750" width="138" height="40"/><text><tspan x="4042" y="766">octave_base_lexer::</tspan><tspan x="4042" y="781">input_buffer</tspan></text></g>
<g id="n38"><rect class="b" x="2615" y="898" width="128" height="26"/><text x="2679" y="916">octave_user_code</text></g>
<g id="n39"><rect class="r" x="2373" y="1025" width="153" height="41"/><text><tspan x="2449" y="1041">symbol_table::fcn_info</tspan><tspan x="2449" y="1056">::fcn_info_rep</tspan></text></g>
<g id="n40"><rect class="g" x="1990" y="1033" width="185" height="25"/><text x="2082" y="1050">std::list&lt; tree_statement * &gt;</text></g>
<g id="n41"><rect class="g" x="2647" y="1137" width="134" height="39"/><text><tspan x="2714" y="1153">std::deque&lt; octave</tspan><tspan x="2714" y="1168">_value &gt;</tspan></text></g>
<g id="n42"><rect class="g" x="1876" y="1263" width="141" height="26"/><text x="1946" y="1281">std::stack&lt; elem * &gt;</text></g>
<g id="n43"><rect class="b" x="2041" y="1263" width="117" height="26"/><text x="2099" y="1281">action_container</text></g>
<g id="n44"><rect class="b" x="2182" y="1257" width="155" height="40"/><text><tspan x="2259" y="1273">octave_base_list&lt; tree</tspan><tspan x="2259" y="1288">_statement * &gt;</tspan></text></g>
<g id="n45"><rect class="b" x="2511" y="1368" width="154" height="25"/><text x="2588" y="1385">symbol_table::fcn_info</text></g>
<g id="n46"><rect class="g" x="1724" y="1450" width="116" height="25"/><text x="1782" y="1467">class_ctor_type</text></g>
<g id="n47"><rect class="b" x="1966" y="1450" width="111" height="25"/><text x="2021" y="1467">unwind_protect</text></g>
<g id="n48"><rect class="b" x="2224" y="1450" width="133" height="25"/><text x="2290" y="1467">tree_statement_list</text></g>
<g id="n49"><rect class="g" x="3490" y="1450" width="147" height="25"/><text x="3563" y="1467">std::list&lt; std::string &gt;</text></g>
<g id="n50"><rect class="b" x="1309" y="1597" width="170" height="40"/><text><tspan x="1394" y="1613">octave_base_list&lt; octave</tspan><tspan x="1394" y="1628">_value &gt;</tspan></text></g>
<g id="n51"><rect class="b" x="1829" y="1758" width="147" height="25"/><text x="1902" y="1775">octave_user_function</text></g>
<g id="n52"><rect class="g" x="2533" y="1759" width="74" height="25"/><text x="2570" y="1776">unsigned</text></g>
<g id="n53"><rect class="b" x="2801" y="1810" width="139" height="40"/><text><tspan x="2870" y="1826">octave_base_lexer::</tspan><tspan x="2870" y="1841">comment_buffer</tspan></text></g>
<g id="n54"><rect class="b" x="2379" y="1874" width="183" height="41"/><text><tspan x="2470" y="1890">symbol_table::symbol</tspan><tspan x="2470" y="1905">_record::symbol_record_rep</tspan></text></g>
<g id="n55"><rect class="b" x="3129" y="1942" width="169" height="38"/><text><tspan x="3213" y="1957">lexical_feedback::symbol</tspan><tspan x="3213" y="1972">_table_context</tspan></text></g>
<g id="n56"><rect class="b" x="1804" y="2006" width="149" height="40"/><text><tspan x="1878" y="2022">symbol_table::symbol</tspan><tspan x="1878" y="2037">_record</tspan></text></g>
<g id="n57"><rect class="g" x="1469" y="2071" width="139" height="40"/><text><tspan x="1538" y="2087">std::vector&lt; symbol</tspan><tspan x="1538" y="2102">_table::scope_id &gt;</tspan></text></g>
<g id="n58"><rect class="b" x="1098" y="2136" width="149" height="41"/><text><tspan x="1172" y="2152">symbol_table::symbol</tspan><tspan x="1172" y="2167">_reference</tspan></text></g>
<g id="n59"><rect class="g" x="3348" y="2012" width="101" height="26"/><text x="3398" y="2030">end_tok_type</text></g>
<g id="n60"><rect class="g" x="3472" y="2012" width="87" height="26"/><text x="3515" y="2030">token_type</text></g>
<g id="n61"><rect class="g" x="3583" y="2012" width="39" height="26"/></g>
<g id="n62"><rect class="b" x="3646" y="2012" width="60" height="26"/><text x="3676" y="2030">double</text></g>
<g id="n63"><rect class="b" x="3493" y="2145" width="54" height="24"/><text x="3520" y="2162">token</text></g>
<g id="n64"><rect class="b" x="1027" y="2344" width="100" height="26"/><text x="1077" y="2362">tree_identifier</text></g>
<g id="n65"><rect class="g" x="2882" y="2344" width="120" height="26"/><text x="2942" y="2362">std::stack&lt; int &gt;</text></g>
<g id="n66"><rect class="g" x="3446" y="2344" width="148" height="26"/><text x="3520" y="2362">std::deque&lt; token * &gt;</text></g>
<g id="n67"><rect class="b" x="689" y="2442" width="154" height="25"/><text x="766" y="2459">tree_classdef_attribute</text></g>
<g id="n68"><rect class="b" x="989" y="2442" width="138" height="25"/><text x="1058" y="2459">tree_classdef_enum</text></g>
<g id="n69"><rect class="b" x="1253" y="2442" width="155" height="25"/><text x="1330" y="2459">tree_classdef_property</text></g>
<g id="n70"><rect class="b" x="2989" y="2435" width="147" height="40"/><text><tspan x="3062" y="2451">lexical_feedback::bbp</tspan><tspan x="3062" y="2466">_nesting_level</tspan></text></g>
<g id="n71"><rect class="b" x="3440" y="2435" width="160" height="40"/><text><tspan x="3520" y="2451">lexical_feedback::token</tspan><tspan x="3520" y="2466">_cache</tspan></text></g>
<g id="n72"><rect class="b" x="876" y="2500" width="139" height="25"/><text x="945" y="2517">tree_classdef_event</text></g>
<g id="n73"><rect class="g" x="616" y="2551" width="154" height="39"/><text><tspan x="693" y="2566">std::list&lt; tree_classdef</tspan><tspan x="693" y="2581">_attribute * &gt;</tspan></text></g>
<g id="n74"><rect class="b" x="3216" y="2558" width="119" height="26"/><text x="3275" y="2576">lexical_feedback</text></g>
<g id="n75"><rect class="g" x="3797" y="2558" width="53" height="26"/><text x="3823" y="2576">void *</text></g>
<g id="n76"><rect class="g" x="828" y="2616" width="155" height="40"/><text><tspan x="905" y="2632">std::list&lt; tree_classdef</tspan><tspan x="905" y="2647">_event * &gt;</tspan></text></g>
<g id="n77"><rect class="g" x="990" y="2616" width="155" height="40"/><text><tspan x="1067" y="2632">std::list&lt; tree_classdef</tspan><tspan x="1067" y="2647">_enum * &gt;</tspan></text></g>
<g id="n78"><rect class="g" x="1244" y="2616" width="155" height="40"/><text><tspan x="1321" y="2632">std::list&lt; tree_classdef</tspan><tspan x="1321" y="2647">_property * &gt;</tspan></text></g>
<g id="n79"><rect class="b" x="618" y="2681" width="155" height="40"/><text><tspan x="695" y="2697">octave_base_list&lt; tree</tspan><tspan x="695" y="2712">_classdef_attribute * &gt;</tspan></text></g>
<g id="n80"><rect class="b" x="3210" y="2689" width="131" height="25"/><text x="3275" y="2706">octave_base_lexer</text></g>
<g id="n81"><rect class="b" x="990" y="2746" width="155" height="40"/><text><tspan x="1067" y="2762">octave_base_list&lt; tree</tspan><tspan x="1067" y="2777">_classdef_enum * &gt;</tspan></text></g>
<g id="n82"><rect class="b" x="1240" y="2746" width="155" height="40"/><text><tspan x="1317" y="2762">octave_base_list&lt; tree</tspan><tspan x="1317" y="2777">_classdef_property * &gt;</tspan></text></g>
<g id="n83"><rect class="b" x="616" y="2820" width="178" height="25"/><text x="705" y="2837">tree_classdef_attribute_list</text></g>
<g id="n84"><rect class="b" x="818" y="2812" width="154" height="40"/><text><tspan x="895" y="2828">octave_base_list&lt; tree</tspan><tspan x="895" y="2843">_classdef_event * &gt;</tspan></text></g>
<g id="n85"><rect class="b" x="380" y="2917" width="154" height="40"/><text><tspan x="457" y="2933">tree_classdef_element</tspan><tspan x="457" y="2948">&lt; octave_value &gt;</tspan></text></g>
<g id="n86"><rect class="b" x="672" y="2917" width="172" height="40"/><text><tspan x="758" y="2933">tree_classdef_element</tspan><tspan x="758" y="2948">&lt; tree_classdef_event * &gt;</tspan></text></g>
<g id="n87"><rect class="b" x="985" y="2917" width="172" height="40"/><text><tspan x="1071" y="2933">tree_classdef_element</tspan><tspan x="1071" y="2948">&lt; tree_classdef_enum * &gt;</tspan></text></g>
<g id="n88"><rect class="b" x="1191" y="2917" width="187" height="40"/><text><tspan x="1284" y="2933">tree_classdef_element</tspan><tspan x="1284" y="2948">&lt; tree_classdef_property * &gt;</tspan></text></g>
<g id="n89"><rect class="b" x="409" y="3007" width="157" height="40"/><text><tspan x="487" y="3023">tree_classdef_methods</tspan><tspan x="487" y="3038">_block</tspan></text></g>
<g id="n90"><rect class="b" x="749" y="3007" width="146" height="40"/><text><tspan x="822" y="3023">tree_classdef_events</tspan><tspan x="822" y="3038">_block</tspan></text></g>
<g id="n91"><rect class="b" x="1017" y="3007" width="139" height="40"/><text><tspan x="1086" y="3023">tree_classdef_enum</tspan><tspan x="1086" y="3038">_block</tspan></text></g>
<g id="n92"><rect class="b" x="1203" y="3007" width="165" height="40"/><text><tspan x="1285" y="3023">tree_classdef_properties</tspan><tspan x="1285" y="3038">_block</tspan></text></g>
<g id="n93"><rect class="g" x="671" y="3111" width="155" height="40"/><text><tspan x="748" y="3127">std::list&lt; tree_classdef</tspan><tspan x="748" y="3142">_methods_block * &gt;</tspan></text></g>
<g id="n94"><rect class="g" x="850" y="3111" width="155" height="40"/><text><tspan x="927" y="3127">std::list&lt; tree_classdef</tspan><tspan x="927" y="3142">_events_block * &gt;</tspan></text></g>
<g id="n95"><rect class="g" x="1029" y="3111" width="155" height="40"/><text><tspan x="1106" y="3127">std::list&lt; tree_classdef</tspan><tspan x="1106" y="3142">_enum_block * &gt;</tspan></text></g>
<g id="n96"><rect class="g" x="1208" y="3111" width="154" height="40"/><text><tspan x="1285" y="3127">std::list&lt; tree_classdef</tspan><tspan x="1285" y="3142">_properties_block * &gt;</tspan></text></g>
<g id="n97"><rect class="b" x="861" y="3214" width="134" height="26"/><text x="928" y="3232">tree_classdef_body</text></g>
<g id="n98"><rect class="b" x="668" y="3305" width="100" height="24"/><text x="718" y="3322">tree_classdef</text></g>
<g id="n99"><rect class="b" x="3206" y="3394" width="139" height="25"/><text x="3275" y="3411">octave_base_parser</text></g>
<g id="n100"><rect class="s" x="3899" y="3469" width="138" height="25"/><text x="3968" y="3486">octave_push_parser</text></g>
</g>
</svg>
